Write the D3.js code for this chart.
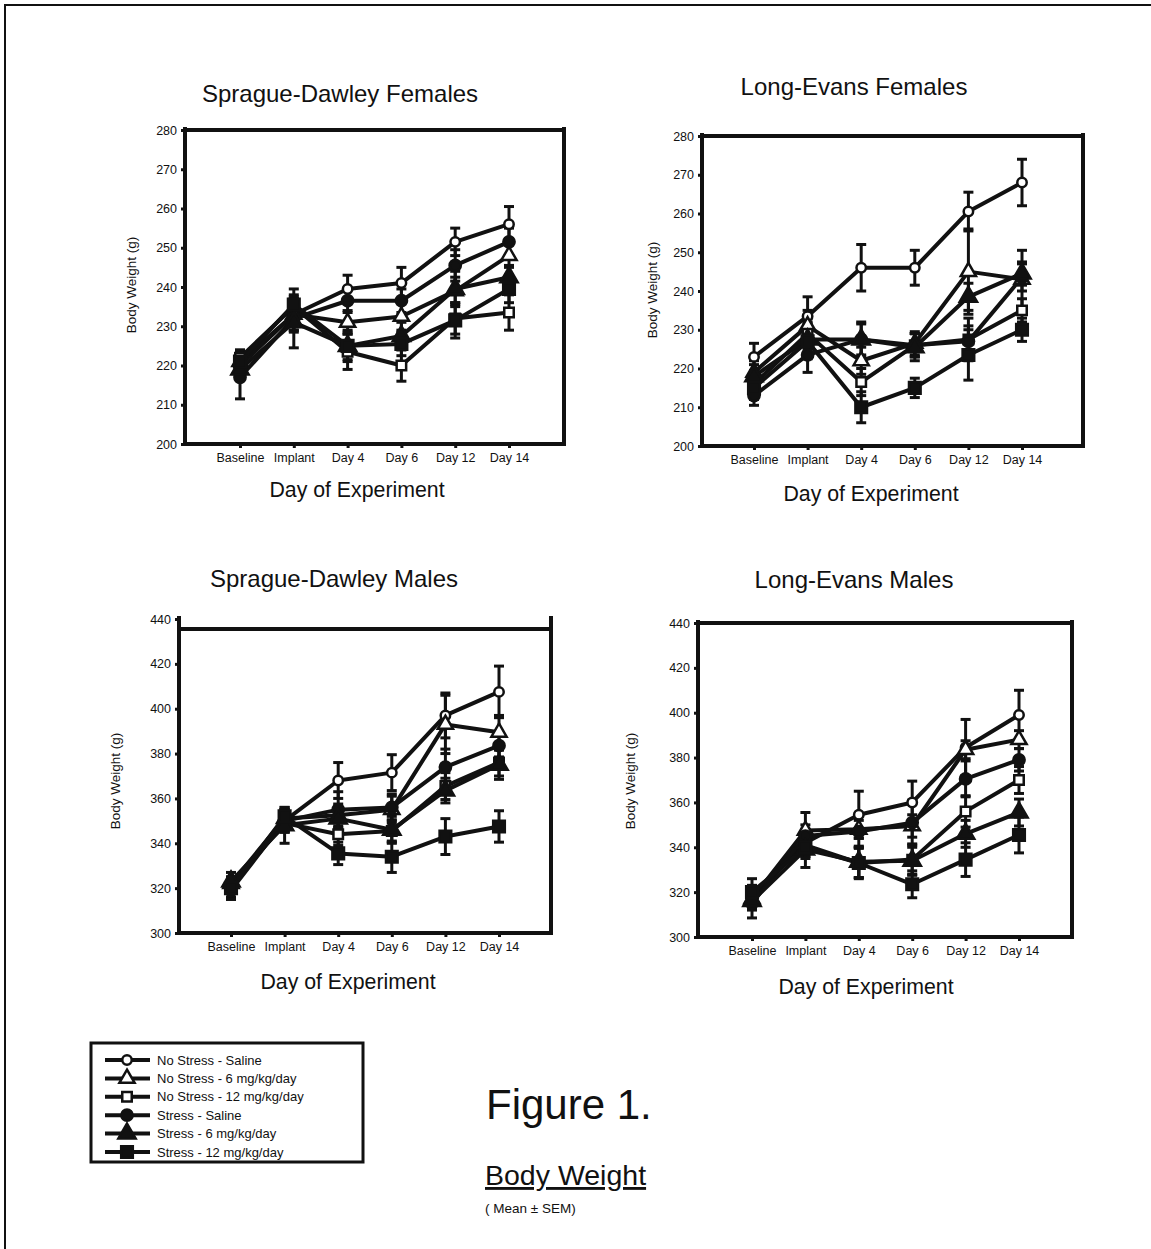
<!DOCTYPE html>
<html>
<head>
<meta charset="utf-8">
<script src="https://cdn.jsdelivr.net/npm/d3@7"></script>
<style>
  body { margin: 0; background: #fff; }
  text { font-family: "Liberation Sans", Arial, sans-serif; fill: #111; }
</style>
</head>
<body>
<div id="chart"></div>
<script>
const categories = ["Baseline", "Implant", "Day 4", "Day 6", "Day 12", "Day 14"];
const seriesNames = ["No Stress - Saline", "No Stress - 6 mg/kg/day", "No Stress - 12 mg/kg/day",
                     "Stress - Saline", "Stress - 6 mg/kg/day", "Stress - 12 mg/kg/day"];
const femaleTicks = [200, 210, 220, 230, 240, 250, 260, 270, 280];
const maleTicks = [300, 320, 340, 360, 380, 400, 420, 440];

// rows follow seriesNames, columns follow categories
const sdFemalesMean = [
  [220, 233, 239.5, 241, 251.5, 256],
  [221, 233, 231, 232.5, 239, 248],
  [222, 235, 223.5, 220, 232, 233.5],
  [217, 232, 236.5, 236.5, 245.5, 251.5],
  [219, 231, 225, 227.5, 239.5, 242.5],
  [221, 235.5, 225, 225.5, 231.5, 239.5]
];
const sdFemalesSem = [
  [3, 4, 3.5, 4, 3.5, 4.5],
  [2.5, 4, 3, 3.5, 3.5, 3],
  [2, 3, 4.5, 4, 4, 4.5],
  [5.5, 3.5, 3, 3, 4, 3.5],
  [2.5, 6.5, 4, 3.5, 4.5, 3],
  [2, 4, 3.5, 3, 4.5, 3.5]
];
const leFemalesMean = [
  [223, 233.5, 246, 246, 260.5, 268],
  [219, 231, 222, 226.5, 245, 243],
  [216, 229, 216.5, 226, 227.5, 235],
  [213, 223.5, 227.5, 226, 227, 243.5],
  [218, 227.5, 227.5, 225.5, 238.5, 244.5],
  [215, 227, 210, 215, 223.5, 230]
];
const leFemalesSem = [
  [3.5, 5, 6, 4.5, 5, 6],
  [3, 4, 3.5, 3, 11, 7.5],
  [2.5, 4, 3.5, 3, 5.5, 3],
  [2.5, 4.5, 4, 3, 4, 3.5],
  [3, 4.5, 4.5, 3.5, 3.5, 3],
  [3, 4.5, 4, 2.5, 6.5, 3]
];
const sdMalesMean = [
  [320, 350, 368, 371.5, 397, 407.5],
  [322, 351, 352.5, 355, 393, 389.5],
  [321, 349, 344, 345.5, 365.5, 376],
  [319, 350, 355, 356, 374, 383.5],
  [323, 348, 351, 346, 363.5, 375],
  [320, 352, 335.5, 334, 343, 347.5]
];
const sdMalesSem = [
  [4, 5, 8, 8, 10, 11.5],
  [3, 4, 5, 6, 13, 7.5],
  [3, 4, 5, 5, 6, 6],
  [4, 5, 8, 6, 8, 5],
  [4, 8, 5, 6, 5.5, 6.5],
  [5, 4, 5, 7, 8, 7]
];
const leMalesMean = [
  [318, 342, 354.5, 360, 384.5, 399],
  [317, 347.5, 348, 349.5, 383.5, 388],
  [319, 341, 333, 334.5, 356, 370],
  [315, 345, 347, 351, 370.5, 379],
  [316, 339, 333.5, 334, 346, 355.5],
  [320, 340, 333, 323.5, 334.5, 345.5]
];
const leMalesSem = [
  [5, 6, 10.5, 9.5, 12.5, 11],
  [4, 8, 4, 5, 4, 4],
  [4, 5, 6.5, 7, 7, 6],
  [6.5, 5, 7, 10, 8, 5],
  [4, 8, 7, 6, 6, 6],
  [6, 5, 7, 6, 7.5, 8]
];

const shapes = [d3.symbolCircle, d3.symbolTriangle, d3.symbolSquare,
                d3.symbolCircle, d3.symbolTriangle, d3.symbolSquare];
const shapeSize = [70, 100, 90, 100, 130, 135];
const filled = [false, false, false, true, true, true];

const panels = [
  {title: "Sprague-Dawley Females", mean: sdFemalesMean, sem: sdFemalesSem, ticks: femaleTicks,
   left: 185, right: 564, top: 130, bottom: 444, boxTop: 130, x0: 240, x1: 509,
   titleX: 340, titleY: 102, ylabX: 131, ylabY: 285, xlabX: 357, xlabY: 497},
  {title: "Long-Evans Females", mean: leFemalesMean, sem: leFemalesSem, ticks: femaleTicks,
   left: 702, right: 1083, top: 136, bottom: 446, boxTop: 136, x0: 754, x1: 1022,
   titleX: 854, titleY: 95, ylabX: 652, ylabY: 290, xlabX: 871, xlabY: 501},
  {title: "Sprague-Dawley Males", mean: sdMalesMean, sem: sdMalesSem, ticks: maleTicks,
   left: 179, right: 551, top: 619, bottom: 933, boxTop: 629, x0: 231, x1: 499,
   titleX: 334, titleY: 587, ylabX: 115, ylabY: 781, xlabX: 348, xlabY: 989},
  {title: "Long-Evans Males", mean: leMalesMean, sem: leMalesSem, ticks: maleTicks,
   left: 698, right: 1072, top: 623, bottom: 937, boxTop: 623, x0: 752, x1: 1019,
   titleX: 854, titleY: 588, ylabX: 630, ylabY: 781, xlabX: 866, xlabY: 994}
];

const svg = d3.select("#chart").append("svg")
  .attr("width", 1151).attr("height", 1249);

// page frame (left and top only)
svg.append("path").attr("d", "M5,1249 V5 H1151")
  .attr("fill", "none").attr("stroke", "#111").attr("stroke-width", 2);

const marker = (i) => d3.symbol().type(shapes[i]).size(shapeSize[i]);

panels.forEach(p => {
  const x = d3.scalePoint().domain(categories).range([p.x0, p.x1]);
  const y = d3.scaleLinear().domain(d3.extent(p.ticks)).range([p.bottom, p.top]);
  const g = svg.append("g");

  const ya = g.append("g").attr("transform", `translate(${p.left},0)`)
    .call(d3.axisLeft(y).tickValues(p.ticks).tickSize(4).tickPadding(4));
  const xa = g.append("g").attr("transform", `translate(0,${p.bottom})`)
    .call(d3.axisBottom(x).tickSize(4).tickPadding(5));
  [ya, xa].forEach(a => {
    a.select(".domain").remove();
    a.selectAll(".tick line").attr("stroke", "#111").attr("stroke-width", 3);
    a.selectAll("text").attr("font-size", 12.5).attr("fill", "#111");
  });

  // frame: left/right from axis top, top line at boxTop
  g.append("path")
    .attr("d", `M${p.left},${p.top - 1} V${p.bottom} H${p.right} V${p.top - 1}` +
               ` M${p.left},${p.boxTop} H${p.right}`)
    .attr("fill", "none").attr("stroke", "#111").attr("stroke-width", 4)
    .attr("stroke-linecap", "square");

  const line = d3.line().x((d, j) => x(categories[j])).y(d => y(d));

  // error bars
  p.mean.forEach((row, i) => {
    const eb = g.append("g").attr("stroke", "#111").attr("stroke-width", 3);
    row.forEach((m, j) => {
      const cx = x(categories[j]);
      const lo = y(m - p.sem[i][j]), hi = y(m + p.sem[i][j]);
      eb.append("line").attr("x1", cx).attr("x2", cx).attr("y1", lo).attr("y2", hi);
      eb.append("line").attr("x1", cx - 5).attr("x2", cx + 5).attr("y1", lo).attr("y2", lo);
      eb.append("line").attr("x1", cx - 5).attr("x2", cx + 5).attr("y1", hi).attr("y2", hi);
    });
  });

  p.mean.forEach(row => {
    g.append("path").attr("d", line(row))
      .attr("fill", "none").attr("stroke", "#111").attr("stroke-width", 4)
      .attr("stroke-linejoin", "round");
  });

  p.mean.forEach((row, i) => {
    g.selectAll(null).data(row).join("path")
      .attr("d", marker(i))
      .attr("transform", (d, j) => `translate(${x(categories[j])},${y(d)})`)
      .attr("fill", filled[i] ? "#111" : "#fff")
      .attr("stroke", "#111").attr("stroke-width", 2.5);
  });

  g.append("text").attr("x", p.titleX).attr("y", p.titleY)
    .attr("text-anchor", "middle").attr("font-size", 24).text(p.title);
  g.append("text").attr("x", p.xlabX).attr("y", p.xlabY)
    .attr("text-anchor", "middle").attr("font-size", 21.3).text("Day of Experiment");
  g.append("text")
    .attr("transform", `translate(${p.ylabX},${p.ylabY}) rotate(-90)`)
    .attr("text-anchor", "middle").attr("dy", "0.35em")
    .attr("font-size", 13.5).text("Body Weight (g)");
});

// legend
const lg = svg.append("g");
lg.append("rect").attr("x", 91).attr("y", 1043).attr("width", 272).attr("height", 119)
  .attr("fill", "#fff").attr("stroke", "#111").attr("stroke-width", 3);
seriesNames.forEach((name, i) => {
  const ry = 1060 + i * 18.4;
  lg.append("line").attr("x1", 105).attr("x2", 150).attr("y1", ry).attr("y2", ry)
    .attr("stroke", "#111").attr("stroke-width", 4);
  lg.append("path").attr("d", marker(i)).attr("transform", `translate(127,${ry})`)
    .attr("fill", filled[i] ? "#111" : "#fff").attr("stroke", "#111").attr("stroke-width", 2.5);
  lg.append("text").attr("x", 157).attr("y", ry).attr("dy", "0.35em")
    .attr("font-size", 13).text(name);
});

// figure caption
svg.append("text").attr("x", 486).attr("y", 1119).attr("font-size", 42).text("Figure 1.");
svg.append("text").attr("x", 485).attr("y", 1185).attr("font-size", 28.5)
  .attr("text-decoration", "underline").text("Body Weight");
svg.append("text").attr("x", 485).attr("y", 1213).attr("font-size", 13.5).text("( Mean ± SEM)");
</script>
</body>
</html>
